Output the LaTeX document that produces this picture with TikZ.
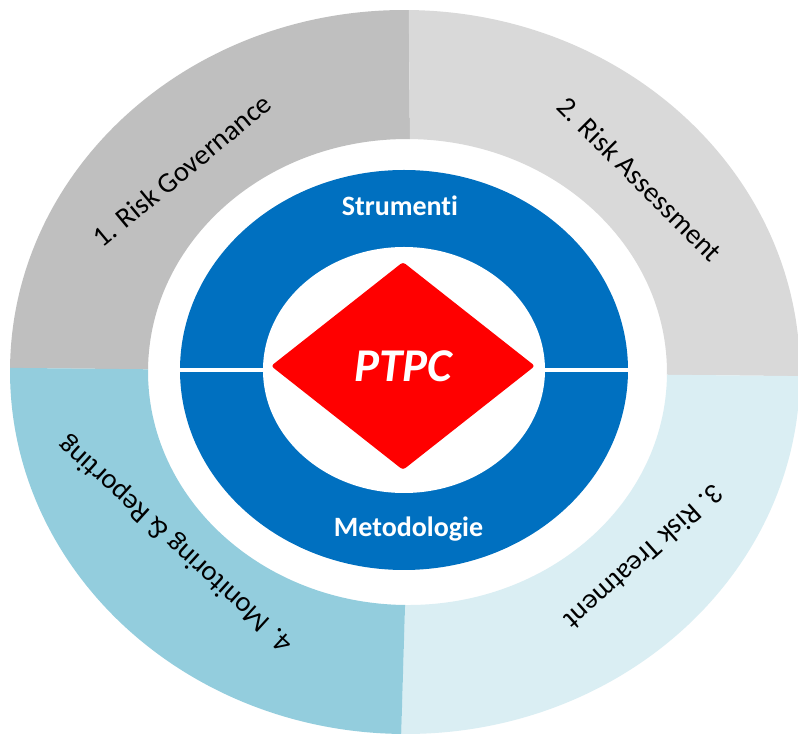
\documentclass[tikz,border=0pt]{standalone}
\usepackage{fontspec}
\setmainfont{Carlito}[Ligatures=NoCommon]
\usetikzlibrary{shapes.geometric}
\definecolor{govgray}{HTML}{BFBFBF}
\definecolor{assgray}{HTML}{D9D9D9}
\definecolor{treatblue}{HTML}{DAEEF3}
\definecolor{monblue}{HTML}{93CDDD}
\definecolor{coreblue}{HTML}{0070C0}
\tikzset{
  phase/.style={font=\fontsize{28.5}{30}\selectfont, text=black, anchor=base, inner sep=0pt},
  tool/.style={font=\bfseries\fontsize{28}{30}\selectfont, text=white, anchor=base, inner sep=0pt}
}
\begin{document}
\begin{tikzpicture}[x=1pt,y=1pt]
\useasboundingbox (-405,-363) rectangle (393,372);
\clip (-405,-363) rectangle (393,372);
\fill[white] (-405,-363) rectangle (393,372);

%Phases ring
\begin{scope}[rotate=-0.6]
\fill[govgray] (90:395pt and 362pt) arc[start angle=90, end angle=180, x radius=395pt, y radius=362pt]
  -- ([xshift=2.5pt]180:259.5pt and 233pt) arc[start angle=180, end angle=90, x radius=259.5pt, y radius=233pt] -- cycle;
\fill[assgray] (0:395pt and 362pt) arc[start angle=0, end angle=90, x radius=395pt, y radius=362pt]
  -- ([xshift=2.5pt]90:259.5pt and 233pt) arc[start angle=90, end angle=0, x radius=259.5pt, y radius=233pt] -- cycle;
\fill[treatblue] (270:395pt and 362pt) arc[start angle=270, end angle=360, x radius=395pt, y radius=362pt]
  -- ([xshift=2.5pt]360:259.5pt and 233pt) arc[start angle=360, end angle=270, x radius=259.5pt, y radius=233pt] -- cycle;
\fill[monblue] (180:395pt and 362pt) arc[start angle=180, end angle=270, x radius=395pt, y radius=362pt]
  -- ([xshift=2.5pt]270:259.5pt and 233pt) arc[start angle=270, end angle=180, x radius=259.5pt, y radius=233pt] -- cycle;
\end{scope}

%Blue ring
\fill[coreblue] (-1,2) ellipse [x radius=224pt, y radius=200pt];
\fill[white] (-232,0) rectangle (232,4);
\fill[white] (-1,2) ellipse [x radius=141pt, y radius=123pt];

%Core
\node[diamond, fill=red, minimum width=264pt, minimum height=208pt, inner sep=0pt, rounded corners=3pt,
  text=white, font=\bfseries\itshape\fontsize{47}{50}\selectfont] (ptpc) at (-2,6) {PTPC};
\node[tool] (strumenti) at (-5,156) {Strumenti};
\node[tool] (metodologie) at (3.5,-165) {Metodologie};

%Labels
\node[phase, rotate=39.7] (governance) at (-217,194) {1. Risk Governance};
\node[phase, rotate=-45] (assessment) at (228,186) {2. Risk Assessment};
\node[phase, rotate=221.8] (treatment) at (233,-178) {3. Risk Treatment};
\node[phase, rotate=137.7] (monitoring) at (-224,-166) {4. Monitoring \& Reporting};
\end{tikzpicture}
\end{document}
